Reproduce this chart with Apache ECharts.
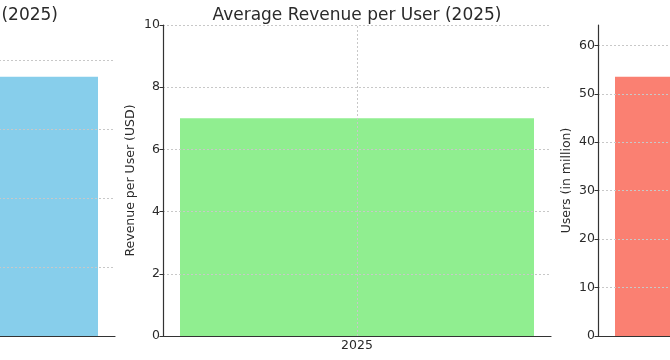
<!DOCTYPE html>
<html>
<head>
<meta charset="utf-8">
<script src="https://cdn.jsdelivr.net/npm/echarts@6/dist/echarts.min.js"></script>
<style>html,body{margin:0;padding:0;background:#fff}#c{width:670px;height:360px}</style>
</head>
<body>
<div id="c"></div>
<script>
const categories = ['2025'];
const totalRevenue = [376];
const revenuePerUser = [7.0];
const users = [53.5];
const titles = ['Total Revenue (2025)', 'Average Revenue per User (2025)', 'Total Users (2025)'];
const yNames = ['Revenue (in million USD)', 'Revenue per User (USD)', 'Users (in million)'];

const FONT = 'DejaVu Sans';
const chart = echarts.init(document.getElementById('c'), null, {renderer: 'canvas'});
const gridLefts = [-273, 163, 598];
const W = 388;
const yMax = [Math.max(...totalRevenue) * 1.2, 10, Math.max(...users) * 1.2];
const yInt = [100, 2, 10];
const colors = ['#87CEEB', '#90EE90', '#FA8072'];
const datas = [totalRevenue, revenuePerUser, users];
const nameGaps = [30, 26, 25];

const grids = gridLefts.map(l => ({left: l, width: W, top: 25, height: 311, outerBoundsMode: 'none', containLabel: false}));
const xAxes = gridLefts.map((l, i) => ({
  type: 'category', gridIndex: i, data: categories, z: 3,
  axisLine: {lineStyle: {color: '#333', width: 1.2}},
  axisTick: {alignWithLabel: true, length: 3.5, lineStyle: {color: '#333'}},
  axisLabel: {color: '#2a2a2a', fontFamily: FONT, fontSize: 12.5, margin: 3},
  splitLine: {show: false}
}));
const yAxes = gridLefts.map((l, i) => ({
  type: 'value', gridIndex: i, min: 0, max: yMax[i], interval: yInt[i], z: 3,
  name: yNames[i], nameLocation: 'middle', nameRotate: 90, nameGap: nameGaps[i], nameMoveOverlap: false,
  nameTextStyle: {color: '#2a2a2a', fontFamily: FONT, fontSize: 12.5},
  axisLine: {show: true, lineStyle: {color: '#333', width: 1.2}},
  axisTick: {show: true, length: 3.5, lineStyle: {color: '#333'}},
  axisLabel: {color: '#2a2a2a', fontFamily: FONT, fontSize: 12.5, margin: 3, showMaxLabel: i === 1},
  splitLine: {show: true, showMinLine: false, showMaxLine: i === 1, lineStyle: {color: '#c8c8c8', type: [2, 2], width: 1}}
}));

const series = datas.map((d, i) => ({
  type: 'bar', xAxisIndex: i, yAxisIndex: i, data: d, barWidth: 354, z: 1,
  itemStyle: {color: colors[i]},
  markLine: {silent: true, symbol: 'none', z: 5, label: {show: false},
    lineStyle: {color: '#c8c8c8', type: [2, 2], width: 1},
    data: [{xAxis: categories[0]}]}
}));

const titleStyle = {fontFamily: FONT, fontSize: 17, fontWeight: 'normal', color: '#2a2a2a'};
chart.setOption({
  animation: false,
  title: [
    {text: titles[0], right: 612, top: 7, padding: 0, textStyle: titleStyle},
    {text: titles[1], left: 357, textAlign: 'center', top: 7, padding: 0, textStyle: titleStyle},
    {text: titles[2], left: 792, textAlign: 'center', top: 7, padding: 0, textStyle: titleStyle}
  ],
  grid: grids, xAxis: xAxes, yAxis: yAxes, series: series
});
</script>
</body>
</html>
